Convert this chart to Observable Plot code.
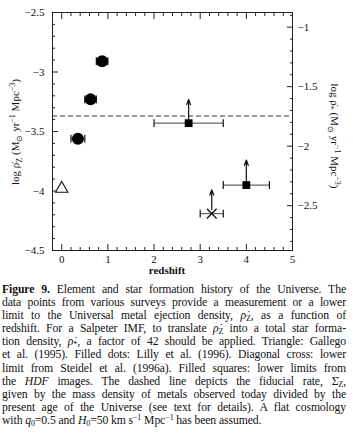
<!DOCTYPE html>
<html><head><meta charset="utf-8">
<script src="https://cdn.jsdelivr.net/npm/d3@7"></script>
<script src="https://cdn.jsdelivr.net/npm/@observablehq/plot@0.6"></script>
<style>
body{margin:0;background:#fff;width:353px;overflow:hidden}
#chart svg{display:block}
#cap{font-family:"Liberation Serif","Times New Roman",serif;font-size:11.7px;line-height:13.1px;color:#111;margin:3px 7px 0 2px;letter-spacing:-0.1px}
#cap .l{text-align:justify;text-align-last:justify;white-space:nowrap;height:13.1px}
#cap .last{text-align:left;text-align-last:left}
#cap sub,#cap sup{font-size:8px;line-height:0;vertical-align:baseline;position:relative}
#cap sub{top:2px}
#cap sup{top:-4px}
</style></head><body>
<div id="chart"></div>
<div id="cap">
<div class="l"><b>Figure 9.</b> Element and star formation history of the Universe. The</div>
<div class="l">data points from various surveys provide a measurement or a lower</div>
<div class="l">limit to the Universal metal ejection density, <i>ρ̇</i><sub>Z</sub>, as a function of</div>
<div class="l">redshift. For a Salpeter IMF, to translate <i>ρ̇</i><sub>Z</sub> into a total star forma-</div>
<div class="l">tion density, <i>ρ̇</i><sub>*</sub>, a factor of 42 should be applied. Triangle: Gallego</div>
<div class="l">et al. (1995). Filled dots: Lilly et al. (1996). Diagonal cross: lower</div>
<div class="l">limit from Steidel et al. (1996a). Filled squares: lower limits from</div>
<div class="l">the <i>HDF</i> images. The dashed line depicts the fiducial rate, Σ̇<sub>Z</sub>,</div>
<div class="l">given by the mass density of metals observed today divided by the</div>
<div class="l">present age of the Universe (see text for details). A flat cosmology</div>
<div class="l last">with <i>q</i><sub>0</sub>=0.5 and <i>H</i><sub>0</sub>=50 km s<sup>−1</sup> Mpc<sup>−1</sup> has been assumed.</div>
</div>
<script>
// Data
const gallegoZ = [0];
const gallegoLogRho = [-3.98];

const lillyZ = [0.35, 0.625, 0.875];
const lillyZlo = [0.2, 0.5, 0.75];
const lillyZhi = [0.5, 0.75, 1.0];
const lillyLogRho = [-3.56, -3.23, -2.91];

const steidelZ = [3.25];
const steidelZlo = [3.0];
const steidelZhi = [3.5];
const steidelLogRho = [-4.19];
const steidelTip = [-3.99];

const hdfZ = [2.75, 4.0];
const hdfZlo = [2.0, 3.5];
const hdfZhi = [3.5, 4.5];
const hdfLogRho = [-3.43, -3.95];
const hdfTip = [-3.23, -3.74];

const fiducialLogRho = -3.37;
const starFactor = 42;

const xMajor = [0, 1, 2, 3, 4, 5];
const yMajor = [-4.5, -4, -3.5, -3, -2.5];
const yRightMajor = [-1, -1.5, -2, -2.5];

// build tables
const L = Math.log10(starFactor);
const lilly = lillyZ.map((z, i) => ({z, lo: lillyZlo[i], hi: lillyZhi[i], y: lillyLogRho[i]}));
const steidel = steidelZ.map((z, i) => ({z, lo: steidelZlo[i], hi: steidelZhi[i], y: steidelLogRho[i], tip: steidelTip[i]}));
const hdf = hdfZ.map((z, i) => ({z, lo: hdfZlo[i], hi: hdfZhi[i], y: hdfLogRho[i], tip: hdfTip[i]}));
const gallego = gallegoZ.map((z, i) => ({z, y: gallegoLogRho[i]}));
const bars = [...lilly, ...steidel, ...hdf];
const limits = [...steidel, ...hdf];

const xMinor = d3.range(0, 26).map(i => i * 0.2).filter(v => Math.abs(v - Math.round(v)) > 1e-6);
const yMinor = d3.range(-45, -25).map(i => i / 10).filter(v => Math.abs(v * 2 - Math.round(v * 2)) > 1e-6);
const yRMinor = d3.range(-28, -8).map(i => i / 10).filter(v => Math.abs(v * 2 - Math.round(v * 2)) > 1e-6);

const capH = 0.033;
const fmt = d => (d < 0 ? "\u2212" : "") + Math.abs(+d.toFixed(2));

const tickStyle = {stroke: "#222", strokeWidth: 1, label: null};
const plot = Plot.plot({
  width: 353, height: 280,
  marginLeft: 52, marginRight: 61, marginTop: 12, marginBottom: 30,
  style: {fontFamily: "'Liberation Serif', serif", fontSize: "11px", color: "#111", background: "#fff"},
  x: {domain: [-0.2, 5], axis: null},
  y: {domain: [-4.5, -2.5], axis: null},
  marks: [
    // dashed fiducial
    Plot.ruleY([fiducialLogRho], {stroke: "#333", strokeDasharray: "5,3", strokeWidth: 1}),
    // axes ticks (inward)
    Plot.axisX({anchor: "bottom", ticks: xMajor, tickSize: -6, fill: "none", ...tickStyle}),
    Plot.axisX({anchor: "bottom", ticks: xMinor, tickSize: -3, fill: "none", ...tickStyle}),
    Plot.axisX({anchor: "top", ticks: xMajor, tickSize: -6, fill: "none", ...tickStyle}),
    Plot.axisX({anchor: "top", ticks: xMinor, tickSize: -3, fill: "none", ...tickStyle}),
    Plot.axisX({anchor: "bottom", ticks: xMajor, tickSize: 0, tickPadding: 5, tickFormat: d => String(d), label: null, fill: "#111"}),
    Plot.axisY({anchor: "left", ticks: yMajor, tickSize: -6, fill: "none", ...tickStyle}),
    Plot.axisY({anchor: "left", ticks: yMinor, tickSize: -3, fill: "none", ...tickStyle}),
    Plot.axisY({anchor: "left", ticks: yMajor, tickSize: 0, tickPadding: 8, tickFormat: fmt, label: null, fill: "#111"}),
    Plot.axisY({anchor: "right", ticks: yRightMajor.map(v => v - L), tickSize: -6, fill: "none", ...tickStyle}),
    Plot.axisY({anchor: "right", ticks: yRMinor.map(v => v - L), tickSize: -3, fill: "none", ...tickStyle}),
    Plot.axisY({anchor: "right", ticks: yRightMajor.map(v => v - L), tickSize: 0, tickPadding: 5, tickFormat: d => fmt(d + L), label: null, fill: "#111"}),
    Plot.frame({stroke: "#222", strokeWidth: 1}),
    // error bars
    Plot.link(bars, {x1: "lo", x2: "hi", y1: "y", y2: "y", stroke: "#666", strokeWidth: 1.2}),
    Plot.link(bars, {x1: "lo", x2: "lo", y1: d => d.y - capH, y2: d => d.y + capH, stroke: "#111", strokeWidth: 1.2}),
    Plot.link(bars, {x1: "hi", x2: "hi", y1: d => d.y - capH, y2: d => d.y + capH, stroke: "#111", strokeWidth: 1.2}),
    // lower-limit arrows
    Plot.arrow(limits, {x1: "z", x2: "z", y1: "y", y2: "tip", bend: 0, headLength: 7, headAngle: 40, insetStart: 4, stroke: "#111", strokeWidth: 1.2}),
    // points
    Plot.dot(lilly, {x: "z", y: "y", r: 6, fill: "#000"}),
    Plot.dot(hdf, {x: "z", y: "y", symbol: "square", r: 4.4, fill: "#000"}),
    Plot.dot(steidel, {x: "z", y: "y", symbol: "times", r: 4.5, stroke: "#111", strokeWidth: 1.3}),
    Plot.dot(gallego, {x: "z", y: "y", symbol: "triangle", r: 4.6, fill: "#fff", stroke: "#111", strokeWidth: 1.1})
  ]
});
document.getElementById("chart").appendChild(plot);

function addLabel(x, y, rot, parts, opts = {}) {
  const t = d3.select(plot).append("text")
    .attr("transform", `translate(${x},${y}) rotate(${rot})`)
    .attr("text-anchor", "middle")
    .attr("font-family", "'Liberation Serif', serif")
    .attr("font-size", opts.size || 11)
    .attr("font-weight", opts.weight || "normal")
    .attr("fill", "#111");
  let shift = 0;
  for (const [s, kind] of parts) {
    const target = kind === "sub" ? 3 : kind === "sup" ? -4 : 0;
    const ts = t.append("tspan").text(s).attr("dy", target - shift);
    if (kind) ts.attr("font-size", 8);
    shift = target;
  }
}
addLabel(167, 274, 0, [["redshift"]], {weight: "bold", size: 11});
addLabel(19, 132, -90, [["log "], ["ρ̇"], ["Z", "sub"], [" (M"], ["⊙", "sub"], [" yr"], ["−1", "sup"], [" Mpc"], ["−3", "sup"], [")"]]);
addLabel(331, 136, 90, [["log "], ["ρ̇"], ["*", "sub"], [" (M"], ["⊙", "sub"], [" yr"], ["−1", "sup"], [" Mpc"], ["−3", "sup"], [")"]]);
</script>
</body></html>
